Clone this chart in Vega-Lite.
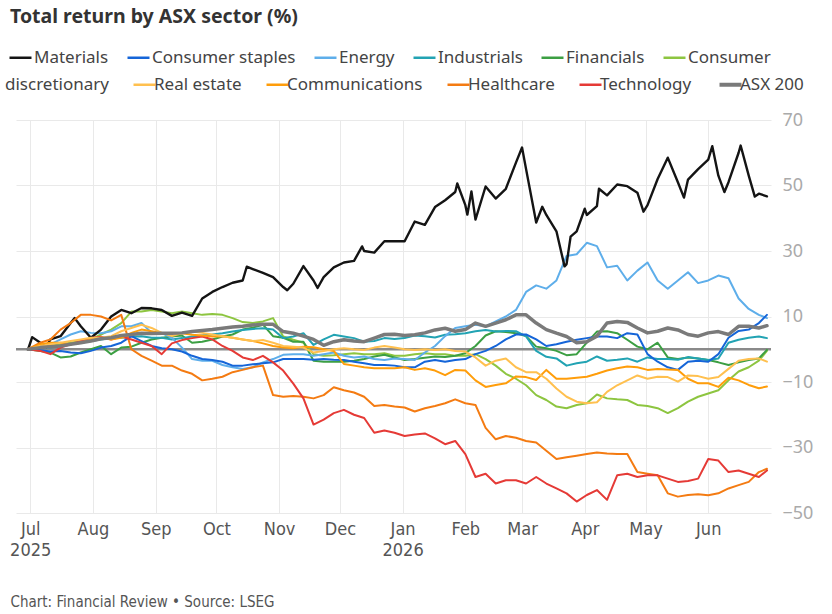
{
  "$schema": "https://vega.github.io/schema/vega-lite/v6.json",
  "width": 755,
  "height": 393,
  "autosize": {"type": "none"},
  "padding": {"left": 16, "top": 120, "right": 61, "bottom": 101},
  "background": "white",
  "title": {
    "text": "Total return by ASX sector (%)",
    "anchor": "start",
    "frame": "group",
    "font": "Noto Sans",
    "fontSize": 19.5,
    "fontWeight": "bold",
    "color": "#333333",
    "dx": -6,
    "offset": 18
  },
  "config": {
    "view": {"stroke": null},
    "axis": {"gridColor": "#e9e9e9", "gridWidth": 1},
    "legend": {
      "orient": "none",
      "direction": "horizontal",
      "title": null,
      "symbolType": "stroke",
      "symbolSize": 484,
      "symbolStrokeWidth": 2.5,
      "labelFont": "Noto Sans",
      "labelFontSize": 17,
      "labelColor": "#444444",
      "labelOffset": 1,
      "labelLimit": 0
    }
  },
  "layer": [
    {
      "data": {"values": [{"zero": 0}]},
      "mark": {"type": "rule", "color": "#8a8a8a", "strokeWidth": 2.5},
      "encoding": {"y": {"field": "zero", "type": "quantitative"}}
    },
    {
      "data": {
        "values": [
          {"d":"2025-06-30","Materials":0,"Consumer staples":0,"Energy":0,"Industrials":0,"Financials":0,"Consumer discretionary":0,"Real estate":0,"Communications":0,"Healthcare":0,"Technology":0,"ASX 200":0},
          {"d":"2025-07-06","Materials":2,"Consumer staples":-0.3,"Energy":1,"Industrials":0.5,"Financials":-0.5,"Consumer discretionary":0.5,"Real estate":1,"Communications":1.5,"Healthcare":2,"Technology":-0.5,"ASX 200":0.5},
          {"d":"2025-07-11","Materials":3,"Consumer staples":-0.7,"Energy":1.5,"Industrials":0.5,"Financials":-1,"Consumer discretionary":1,"Real estate":1.5,"Communications":2,"Healthcare":3,"Technology":-1.5,"ASX 200":0.8},
          {"d":"2025-07-16","Materials":4,"Consumer staples":-0.5,"Energy":3,"Industrials":1,"Financials":-2.5,"Consumer discretionary":1.5,"Real estate":2,"Communications":2,"Healthcare":6,"Technology":0.5,"ASX 200":1},
          {"d":"2025-07-21","Materials":8,"Consumer staples":-1,"Energy":4.5,"Industrials":1.5,"Financials":-2.2,"Consumer discretionary":2,"Real estate":2.5,"Communications":1.5,"Healthcare":8,"Technology":1.5,"ASX 200":1.5},
          {"d":"2025-07-26","Materials":7,"Consumer staples":-1.2,"Energy":5.5,"Industrials":2,"Financials":-1,"Consumer discretionary":2.5,"Real estate":3,"Communications":2,"Healthcare":10.5,"Technology":2.5,"ASX 200":2},
          {"d":"2025-07-31","Materials":3.5,"Consumer staples":-0.5,"Energy":5,"Industrials":2.5,"Financials":0,"Consumer discretionary":3,"Real estate":3.5,"Communications":3,"Healthcare":10.5,"Technology":3.4,"ASX 200":2.5},
          {"d":"2025-08-05","Materials":6,"Consumer staples":0.5,"Energy":4.9,"Industrials":3,"Financials":1,"Consumer discretionary":4.5,"Real estate":3.5,"Communications":3.5,"Healthcare":10,"Technology":3.8,"ASX 200":3.2},
          {"d":"2025-08-10","Materials":10,"Consumer staples":1,"Energy":5.5,"Industrials":3.4,"Financials":-1.5,"Consumer discretionary":6,"Real estate":4,"Communications":3,"Healthcare":8.8,"Technology":3,"ASX 200":3.5},
          {"d":"2025-08-15","Materials":12,"Consumer staples":2,"Energy":7,"Industrials":3.5,"Financials":0.5,"Consumer discretionary":8,"Real estate":5.5,"Communications":3.5,"Healthcare":10.5,"Technology":3.9,"ASX 200":4.2},
          {"d":"2025-08-20","Materials":11,"Consumer staples":4,"Energy":7,"Industrials":3.9,"Financials":0.8,"Consumer discretionary":11.5,"Real estate":6.5,"Communications":5,"Healthcare":0,"Technology":3,"ASX 200":4.5},
          {"d":"2025-08-25","Materials":12.6,"Consumer staples":2.5,"Energy":8,"Industrials":4,"Financials":2,"Consumer discretionary":11.5,"Real estate":7.5,"Communications":6,"Healthcare":-2,"Technology":2,"ASX 200":4.9},
          {"d":"2025-08-30","Materials":12.5,"Consumer staples":1,"Energy":5,"Industrials":3.5,"Financials":3,"Consumer discretionary":12,"Real estate":6.5,"Communications":5.5,"Healthcare":-3.5,"Technology":1,"ASX 200":4.8},
          {"d":"2025-09-04","Materials":12,"Consumer staples":0.3,"Energy":4.9,"Industrials":3.5,"Financials":3.5,"Consumer discretionary":11.5,"Real estate":5,"Communications":5,"Healthcare":-5,"Technology":-1.5,"ASX 200":4.9},
          {"d":"2025-09-09","Materials":10.2,"Consumer staples":0,"Energy":3.5,"Industrials":3,"Financials":3.9,"Consumer discretionary":11,"Real estate":4,"Communications":5,"Healthcare":-5,"Technology":1.8,"ASX 200":4.9},
          {"d":"2025-09-14","Materials":11.2,"Consumer staples":-0.7,"Energy":0.5,"Industrials":3.4,"Financials":4.2,"Consumer discretionary":11.5,"Real estate":4.9,"Communications":4.9,"Healthcare":-6.5,"Technology":2.8,"ASX 200":5},
          {"d":"2025-09-19","Materials":10.2,"Consumer staples":-2,"Energy":-3,"Industrials":3.9,"Financials":2,"Consumer discretionary":11,"Real estate":5.4,"Communications":4.4,"Healthcare":-7.5,"Technology":3.4,"ASX 200":5.4},
          {"d":"2025-09-24","Materials":15.5,"Consumer staples":-3,"Energy":-3.5,"Industrials":4.2,"Financials":2.3,"Consumer discretionary":10.5,"Real estate":5,"Communications":4.2,"Healthcare":-9.5,"Technology":3.9,"ASX 200":5.7},
          {"d":"2025-09-29","Materials":17.5,"Consumer staples":-3.3,"Energy":-3.5,"Industrials":4.5,"Financials":3,"Consumer discretionary":10.8,"Real estate":4.5,"Communications":3.9,"Healthcare":-9,"Technology":3,"ASX 200":6},
          {"d":"2025-10-04","Materials":19,"Consumer staples":-3.8,"Energy":-4.8,"Industrials":4.9,"Financials":3.9,"Consumer discretionary":10.5,"Real estate":4,"Communications":4,"Healthcare":-8.4,"Technology":1,"ASX 200":6.4},
          {"d":"2025-10-09","Materials":20.3,"Consumer staples":-5,"Energy":-5.5,"Industrials":5.4,"Financials":4.5,"Consumer discretionary":9.5,"Real estate":3.5,"Communications":3.5,"Healthcare":-7,"Technology":-0.5,"ASX 200":6.8},
          {"d":"2025-10-14","Materials":21,"Consumer staples":-5,"Energy":-6,"Industrials":5.9,"Financials":6,"Consumer discretionary":8.3,"Real estate":3,"Communications":3,"Healthcare":-6.3,"Technology":-2.5,"ASX 200":7},
          {"d":"2025-10-19","Materials":24.5,"Consumer staples":-4.6,"Energy":-5.5,"Industrials":6.2,"Financials":6.6,"Consumer discretionary":8,"Real estate":2.5,"Communications":2.5,"Healthcare":-5.5,"Technology":-3.3,"ASX 200":7.4},
          {"d":"2025-10-24","Materials":23.3,"Consumer staples":-4.3,"Energy":-4,"Industrials":6.4,"Financials":7.5,"Consumer discretionary":8.5,"Real estate":2.8,"Communications":1.8,"Healthcare":-5,"Technology":-2,"ASX 200":7.6},
          {"d":"2025-10-29","Materials":22,"Consumer staples":-4,"Energy":-3,"Industrials":6,"Financials":4,"Consumer discretionary":9.5,"Real estate":2,"Communications":1,"Healthcare":-14,"Technology":-4,"ASX 200":7.6},
          {"d":"2025-11-03","Materials":19,"Consumer staples":-3,"Energy":-1.7,"Industrials":3.4,"Financials":3.5,"Consumer discretionary":3.9,"Real estate":1,"Communications":0.5,"Healthcare":-14.5,"Technology":-6.5,"ASX 200":5.4},
          {"d":"2025-11-08","Materials":20,"Consumer staples":-3,"Energy":-1.5,"Industrials":3.9,"Financials":2.3,"Consumer discretionary":2.9,"Real estate":0.8,"Communications":0.3,"Healthcare":-14.3,"Technology":-10.5,"ASX 200":4.9},
          {"d":"2025-11-13","Materials":25.4,"Consumer staples":-3,"Energy":-1.5,"Industrials":4.9,"Financials":2.3,"Consumer discretionary":2,"Real estate":0.5,"Communications":0.8,"Healthcare":-14.5,"Technology":-15,"ASX 200":4},
          {"d":"2025-11-18","Materials":21,"Consumer staples":-3.2,"Energy":-2,"Industrials":1.3,"Financials":-3.5,"Consumer discretionary":-1.5,"Real estate":-1,"Communications":0.6,"Healthcare":-15,"Technology":-23,"ASX 200":3},
          {"d":"2025-11-23","Materials":22,"Consumer staples":-3,"Energy":-1.5,"Industrials":3,"Financials":-3.8,"Consumer discretionary":-2,"Real estate":-0.5,"Communications":0,"Healthcare":-14,"Technology":-21.5,"ASX 200":1.2},
          {"d":"2025-11-28","Materials":25,"Consumer staples":-3.2,"Energy":-1,"Industrials":4.4,"Financials":-3.8,"Consumer discretionary":-1.8,"Real estate":0,"Communications":-0.5,"Healthcare":-11.6,"Technology":-19.5,"ASX 200":2.3},
          {"d":"2025-12-03","Materials":26.5,"Consumer staples":-3.3,"Energy":-2,"Industrials":3.9,"Financials":-3.8,"Consumer discretionary":-1.5,"Real estate":0.3,"Communications":-4.5,"Healthcare":-12.5,"Technology":-18.5,"ASX 200":2.9},
          {"d":"2025-12-08","Materials":27,"Consumer staples":-3.8,"Energy":-2.5,"Industrials":3.4,"Financials":-3.5,"Consumer discretionary":-1.2,"Real estate":0,"Communications":-5,"Healthcare":-13.2,"Technology":-20,"ASX 200":2.5},
          {"d":"2025-12-13","Materials":30,"Consumer staples":-4.3,"Energy":-2.2,"Industrials":2.3,"Financials":-3,"Consumer discretionary":-1.5,"Real estate":-0.2,"Communications":-5.5,"Healthcare":-14.5,"Technology":-21,"ASX 200":2.3},
          {"d":"2025-12-18","Materials":29.5,"Consumer staples":-4.8,"Energy":-3,"Industrials":2.5,"Financials":-2.2,"Consumer discretionary":-1.5,"Real estate":0.5,"Communications":-5.8,"Healthcare":-17.3,"Technology":-25.5,"ASX 200":3.4},
          {"d":"2025-12-23","Materials":33,"Consumer staples":-4.8,"Energy":-3.3,"Industrials":3.4,"Financials":-1.7,"Consumer discretionary":-1.2,"Real estate":1,"Communications":-5.8,"Healthcare":-17,"Technology":-24.8,"ASX 200":4.5},
          {"d":"2025-12-28","Materials":33,"Consumer staples":-5,"Energy":-2.8,"Industrials":3.1,"Financials":-2.5,"Consumer discretionary":-2,"Real estate":0.5,"Communications":-5.8,"Healthcare":-17.5,"Technology":-25.5,"ASX 200":4.6},
          {"d":"2026-01-02","Materials":33,"Consumer staples":-5.5,"Energy":-3,"Industrials":3.4,"Financials":-3.3,"Consumer discretionary":-2,"Real estate":0,"Communications":-5.5,"Healthcare":-17.8,"Technology":-26.5,"ASX 200":4.2},
          {"d":"2026-01-07","Materials":39,"Consumer staples":-5.5,"Energy":-3.3,"Industrials":4.2,"Financials":-3,"Consumer discretionary":-1.5,"Real estate":-0.2,"Communications":-6.3,"Healthcare":-19,"Technology":-26,"ASX 200":4.4},
          {"d":"2026-01-12","Materials":38,"Consumer staples":-3.8,"Energy":-1,"Industrials":4,"Financials":-2.6,"Consumer discretionary":-1.2,"Real estate":0,"Communications":-5.8,"Healthcare":-18,"Technology":-25.7,"ASX 200":5},
          {"d":"2026-01-17","Materials":43.4,"Consumer staples":-3.3,"Energy":1,"Industrials":3.6,"Financials":-2.2,"Consumer discretionary":-1.5,"Real estate":-0.2,"Communications":-6.5,"Healthcare":-17.3,"Technology":-27.2,"ASX 200":5.9},
          {"d":"2026-01-22","Materials":45.5,"Consumer staples":-3.8,"Energy":4,"Industrials":4.4,"Financials":-2.4,"Consumer discretionary":-1.5,"Real estate":0,"Communications":-7.9,"Healthcare":-16.5,"Technology":-29,"ASX 200":6.4},
          {"d":"2026-01-27","Materials":48,"Consumer staples":-3.3,"Energy":6.5,"Industrials":4.6,"Financials":-2,"Consumer discretionary":-2,"Real estate":-0.5,"Communications":-6.3,"Healthcare":-15.3,"Technology":-28,"ASX 200":5.5},
          {"d":"2026-02-01","Materials":44,"Consumer staples":-3,"Energy":7,"Industrials":4.9,"Financials":-1.2,"Consumer discretionary":-2,"Real estate":-0.7,"Communications":-6.5,"Healthcare":-16.5,"Technology":-32,"ASX 200":6},
          {"d":"2026-02-06","Materials":39.6,"Consumer staples":-1.5,"Energy":7.5,"Industrials":5.5,"Financials":1,"Consumer discretionary":-1.5,"Real estate":-2.5,"Communications":-9.5,"Healthcare":-17,"Technology":-39,"ASX 200":8},
          {"d":"2026-02-11","Materials":49.7,"Consumer staples":-0.5,"Energy":7,"Industrials":5.9,"Financials":4.2,"Consumer discretionary":-3,"Real estate":-5,"Communications":-11.5,"Healthcare":-24,"Technology":-38,"ASX 200":7},
          {"d":"2026-02-16","Materials":46,"Consumer staples":1,"Energy":8.5,"Industrials":5.4,"Financials":5.5,"Consumer discretionary":-5,"Real estate":-3.5,"Communications":-10.9,"Healthcare":-27.5,"Technology":-41,"ASX 200":8},
          {"d":"2026-02-21","Materials":49,"Consumer staples":3,"Energy":10,"Industrials":5.6,"Financials":5.3,"Consumer discretionary":-7.5,"Real estate":-2.8,"Communications":-10.4,"Healthcare":-26.5,"Technology":-40,"ASX 200":9},
          {"d":"2026-02-26","Materials":57,"Consumer staples":4.5,"Energy":12,"Industrials":5.5,"Financials":4.9,"Consumer discretionary":-9,"Real estate":-5.5,"Communications":-8.3,"Healthcare":-27,"Technology":-40,"ASX 200":10.5},
          {"d":"2026-03-03","Materials":55,"Consumer staples":4.5,"Energy":17.5,"Industrials":3.9,"Financials":4,"Consumer discretionary":-11,"Real estate":-7,"Communications":-8.5,"Healthcare":-28,"Technology":-41,"ASX 200":10.5},
          {"d":"2026-03-08","Materials":38.7,"Consumer staples":3,"Energy":19.5,"Industrials":-0.5,"Financials":0.8,"Consumer discretionary":-14,"Real estate":-7,"Communications":-9.4,"Healthcare":-28.5,"Technology":-39,"ASX 200":8},
          {"d":"2026-03-13","Materials":41,"Consumer staples":1,"Energy":18.5,"Industrials":-2.3,"Financials":0.3,"Consumer discretionary":-15.5,"Real estate":-9,"Communications":-6.3,"Healthcare":-31,"Technology":-41,"ASX 200":6},
          {"d":"2026-03-18","Materials":36,"Consumer staples":1.5,"Energy":21,"Industrials":-2.8,"Financials":-0.5,"Consumer discretionary":-17.5,"Real estate":-12,"Communications":-9,"Healthcare":-33.5,"Technology":-42.5,"ASX 200":4.9},
          {"d":"2026-03-23","Materials":26,"Consumer staples":2.3,"Energy":28.5,"Industrials":-5,"Financials":-1.8,"Consumer discretionary":-18,"Real estate":-14.5,"Communications":-9,"Healthcare":-33,"Technology":-44,"ASX 200":3.9},
          {"d":"2026-03-28","Materials":36,"Consumer staples":2.9,"Energy":29,"Industrials":-4.3,"Financials":-1.5,"Consumer discretionary":-17,"Real estate":-16,"Communications":-8.7,"Healthcare":-32.5,"Technology":-46.5,"ASX 200":2},
          {"d":"2026-04-02","Materials":41,"Consumer staples":3.4,"Energy":32.5,"Industrials":-3.8,"Financials":2,"Consumer discretionary":-16.5,"Real estate":-16.5,"Communications":-8.4,"Healthcare":-32,"Technology":-44.5,"ASX 200":2.3},
          {"d":"2026-04-07","Materials":43.7,"Consumer staples":3.9,"Energy":31.5,"Industrials":-2.2,"Financials":5.4,"Consumer discretionary":-13.8,"Real estate":-16.2,"Communications":-7.5,"Healthcare":-31.5,"Technology":-43,"ASX 200":4},
          {"d":"2026-04-12","Materials":47,"Consumer staples":3.9,"Energy":25,"Industrials":-3.5,"Financials":5.5,"Consumer discretionary":-15,"Real estate":-13,"Communications":-6.5,"Healthcare":-31.8,"Technology":-46,"ASX 200":8},
          {"d":"2026-04-17","Materials":50.3,"Consumer staples":3.4,"Energy":25.5,"Industrials":-3.2,"Financials":4.9,"Consumer discretionary":-15.3,"Real estate":-11,"Communications":-5.8,"Healthcare":-32,"Technology":-38.5,"ASX 200":8.5},
          {"d":"2026-04-22","Materials":49.8,"Consumer staples":4.9,"Energy":21,"Industrials":-2.8,"Financials":2.9,"Consumer discretionary":-15.5,"Real estate":-9.5,"Communications":-5.3,"Healthcare":-32,"Technology":-38,"ASX 200":8.2},
          {"d":"2026-04-27","Materials":47.8,"Consumer staples":4.5,"Energy":24,"Industrials":-3.8,"Financials":0.8,"Consumer discretionary":-17,"Real estate":-8,"Communications":-5.5,"Healthcare":-37.5,"Technology":-39,"ASX 200":6.5},
          {"d":"2026-05-02","Materials":44,"Consumer staples":-1.5,"Energy":26.5,"Industrials":-2.5,"Financials":0,"Consumer discretionary":-17.3,"Real estate":-9,"Communications":-6.3,"Healthcare":-38,"Technology":-38.5,"ASX 200":5},
          {"d":"2026-05-07","Materials":52,"Consumer staples":-3.8,"Energy":21,"Industrials":-3,"Financials":2,"Consumer discretionary":-18,"Real estate":-8.4,"Communications":-6,"Healthcare":-38.5,"Technology":-38.5,"ASX 200":5.5},
          {"d":"2026-05-12","Materials":58.5,"Consumer staples":-5.5,"Energy":18.5,"Industrials":-3,"Financials":-2.5,"Consumer discretionary":-19.5,"Real estate":-8.5,"Communications":-6.2,"Healthcare":-44,"Technology":-39.5,"ASX 200":6.5},
          {"d":"2026-05-17","Materials":51,"Consumer staples":-6.3,"Energy":21,"Industrials":-3.2,"Financials":-3,"Consumer discretionary":-18,"Real estate":-9.9,"Communications":-6.3,"Healthcare":-45,"Technology":-40.5,"ASX 200":5.9},
          {"d":"2026-05-22","Materials":51.8,"Consumer staples":-3.8,"Energy":23.5,"Industrials":-2.4,"Financials":-2.5,"Consumer discretionary":-16,"Real estate":-8,"Communications":-9,"Healthcare":-44.5,"Technology":-40.2,"ASX 200":4.5},
          {"d":"2026-05-27","Materials":55,"Consumer staples":-3.5,"Energy":20.2,"Industrials":-2.8,"Financials":-2.8,"Consumer discretionary":-14.5,"Real estate":-8.2,"Communications":-10.4,"Healthcare":-44.3,"Technology":-39.5,"ASX 200":4},
          {"d":"2026-06-01","Materials":57.9,"Consumer staples":-3.8,"Energy":21,"Industrials":-3.3,"Financials":-3.3,"Consumer discretionary":-13.5,"Real estate":-9,"Communications":-10.4,"Healthcare":-44.6,"Technology":-33.5,"ASX 200":5},
          {"d":"2026-06-06","Materials":53,"Consumer staples":-1.5,"Energy":22.5,"Industrials":-2.8,"Financials":-4,"Consumer discretionary":-12.5,"Real estate":-8.5,"Communications":-11.5,"Healthcare":-44,"Technology":-34,"ASX 200":5.4},
          {"d":"2026-06-11","Materials":51,"Consumer staples":3.5,"Energy":21.7,"Industrials":2,"Financials":-4.8,"Consumer discretionary":-9.5,"Real estate":-6,"Communications":-8.7,"Healthcare":-42.5,"Technology":-37.5,"ASX 200":4.5},
          {"d":"2026-06-16","Materials":60,"Consumer staples":5.6,"Energy":15.5,"Industrials":2.9,"Financials":-4,"Consumer discretionary":-6.8,"Real estate":-3.5,"Communications":-9.5,"Healthcare":-41.5,"Technology":-37,"ASX 200":7},
          {"d":"2026-06-21","Materials":53,"Consumer staples":6,"Energy":12.3,"Industrials":3.5,"Financials":-3.3,"Consumer discretionary":-5.5,"Real estate":-3,"Communications":-10.9,"Healthcare":-40.5,"Technology":-38,"ASX 200":7},
          {"d":"2026-06-26","Materials":47.5,"Consumer staples":8,"Energy":10.5,"Industrials":3.9,"Financials":-2.8,"Consumer discretionary":-3.5,"Real estate":-2.8,"Communications":-11.9,"Healthcare":-37.5,"Technology":-39,"ASX 200":6.5},
          {"d":"2026-06-30","Materials":46.7,"Consumer staples":10.5,"Energy":9.5,"Industrials":3.4,"Financials":-0.2,"Consumer discretionary":-0.5,"Real estate":-3.8,"Communications":-11.4,"Healthcare":-36.5,"Technology":-37,"ASX 200":7.2},
          {"d":"2025-07-02","Materials":3.7},
          {"d":"2025-07-09","Materials":0.7},
          {"d":"2025-07-23","Materials":9.5},
          {"d":"2025-10-16","Materials":25.2},
          {"d":"2025-11-05","Materials":18},
          {"d":"2025-11-20","Materials":18.7},
          {"d":"2025-12-12","Materials":31.4},
          {"d":"2026-01-28","Materials":50.6},
          {"d":"2026-02-02","Materials":41.1},
          {"d":"2026-02-04","Materials":48.2},
          {"d":"2026-03-01","Materials":61.6},
          {"d":"2026-03-11","Materials":43.5},
          {"d":"2026-03-22","Materials":25.3},
          {"d":"2026-03-25","Materials":34.4},
          {"d":"2026-04-01","Materials":42.9},
          {"d":"2026-04-08","Materials":49},
          {"d":"2026-04-30","Materials":42},
          {"d":"2026-05-20","Materials":46.3},
          {"d":"2026-06-03","Materials":62},
          {"d":"2026-06-09","Materials":48},
          {"d":"2026-06-17","Materials":62.2},
          {"d":"2026-06-24","Materials":46.6}
        ]
      },
      "transform": [
        {"fold": ["Healthcare", "Technology", "Communications", "Real estate", "Consumer discretionary", "Financials", "Industrials", "Energy", "Consumer staples", "Materials", "ASX 200"], "as": ["s", "v"]},
        {"filter": "isValid(datum.v)"}
      ],
      "encoding": {
        "x": {
          "field": "d",
          "type": "temporal",
          "scale": {"type": "utc", "domain": [{"year": 2025, "month": 6, "date": 24, "utc": true}, {"year": 2026, "month": 7, "date": 2, "utc": true}]},
          "axis": {
            "values": [
              {"year": 2025, "month": 7, "date": 1, "utc": true},
              {"year": 2025, "month": 8, "date": 1, "utc": true},
              {"year": 2025, "month": 9, "date": 1, "utc": true},
              {"year": 2025, "month": 10, "date": 1, "utc": true},
              {"year": 2025, "month": 11, "date": 1, "utc": true},
              {"year": 2025, "month": 12, "date": 1, "utc": true},
              {"year": 2026, "month": 1, "date": 1, "utc": true},
              {"year": 2026, "month": 2, "date": 1, "utc": true},
              {"year": 2026, "month": 3, "date": 1, "utc": true},
              {"year": 2026, "month": 4, "date": 1, "utc": true},
              {"year": 2026, "month": 5, "date": 1, "utc": true},
              {"year": 2026, "month": 6, "date": 1, "utc": true}
            ],
            "labelExpr": "(utcFormat(datum.value, '%m') == '01' || utcFormat(datum.value, '%m') == '07') ? [utcFormat(datum.value, '%b'), utcFormat(datum.value, '%Y')] : utcFormat(datum.value, '%b')",
            "grid": true,
            "domain": false,
            "ticks": false,
            "labelFont": "Liberation Sans Narrow, DejaVu Sans Condensed, sans-serif",
            "labelFontSize": 18,
            "labelColor": "#555555",
            "labelPadding": 7,
            "labelLineHeight": 21,
            "labelAlign": "center",
            "labelBaseline": "top",
            "title": "Chart: Financial Review • Source: LSEG",
            "titleFont": "Liberation Sans Narrow, DejaVu Sans Condensed, sans-serif",
            "titleFontSize": 15,
            "titleFontWeight": "normal",
            "titleColor": "#555555",
            "titleAnchor": "start",
            "titleAlign": "left",
            "titleBaseline": "alphabetic",
            "titleX": -6,
            "titleY": 93
          }
        },
        "y": {
          "field": "v",
          "type": "quantitative",
          "scale": {"domain": [-50, 70], "nice": false, "zero": false},
          "axis": {
            "orient": "right",
            "values": [-50, -40, -30, -20, -10, 0, 10, 20, 30, 40, 50, 60, 70],
            "title": null,
            "domain": false,
            "ticks": false,
            "labelFont": "Noto Sans",
            "labelFontSize": 18,
            "labelColor": "#aaaaaa",
            "labelPadding": 11
          }
        },
        "strokeWidth": {
          "condition": [
            {"test": "datum.s === 'ASX 200'", "value": 3.5},
            {"test": "datum.s === 'Materials'", "value": 2.4}
          ],
          "value": 2
        }
      },
      "layer": [
        {
          "transform": [{"filter": {"field": "s", "oneOf": ["Materials", "Consumer staples", "Energy", "Industrials", "Financials", "Consumer discretionary"]}}],
          "mark": {"type": "line", "strokeJoin": "round", "strokeCap": "round"},
          "encoding": {
            "color": {
              "field": "s",
              "type": "nominal",
              "scale": {
                "domain": ["Materials", "Consumer staples", "Energy", "Industrials", "Financials", "Consumer discretionary"],
                "range": ["#141414", "#1565d8", "#5eaeea", "#22a3b3", "#3c9f43", "#8dc540"]
              },
              "legend": {
                "legendX": -8,
                "legendY": -75,
                "columnPadding": 13,
                "labelExpr": "datum.label === 'Consumer discretionary' ? 'Consumer' : datum.label"
              }
            }
          }
        },
        {
          "transform": [{"filter": {"field": "s", "oneOf": ["Real estate", "Communications", "Healthcare", "Technology", "ASX 200"]}}],
          "mark": {"type": "line", "strokeJoin": "round", "strokeCap": "round"},
          "encoding": {
            "stroke": {
              "field": "s",
              "type": "nominal",
              "scale": {
                "domain": ["discretionary", "Real estate", "Communications", "Healthcare", "Technology", "ASX 200"],
                "range": ["transparent", "#ffc04f", "#ff9d0a", "#f47b12", "#e53a36", "#7a7a7a"]
              },
              "legend": {
                "legendX": -8,
                "legendY": -44,
                "columnPadding": 19,
                "encode": {
                  "symbols": {"update": {"strokeWidth": {"signal": "datum.value === 'ASX 200' ? 4 : 2.5"}}},
                  "labels": {"update": {"dx": {"signal": "datum.value === 'discretionary' ? -21 : 0"}}}
                }
              }
            }
          }
        }
      ]
    }
  ]
}
